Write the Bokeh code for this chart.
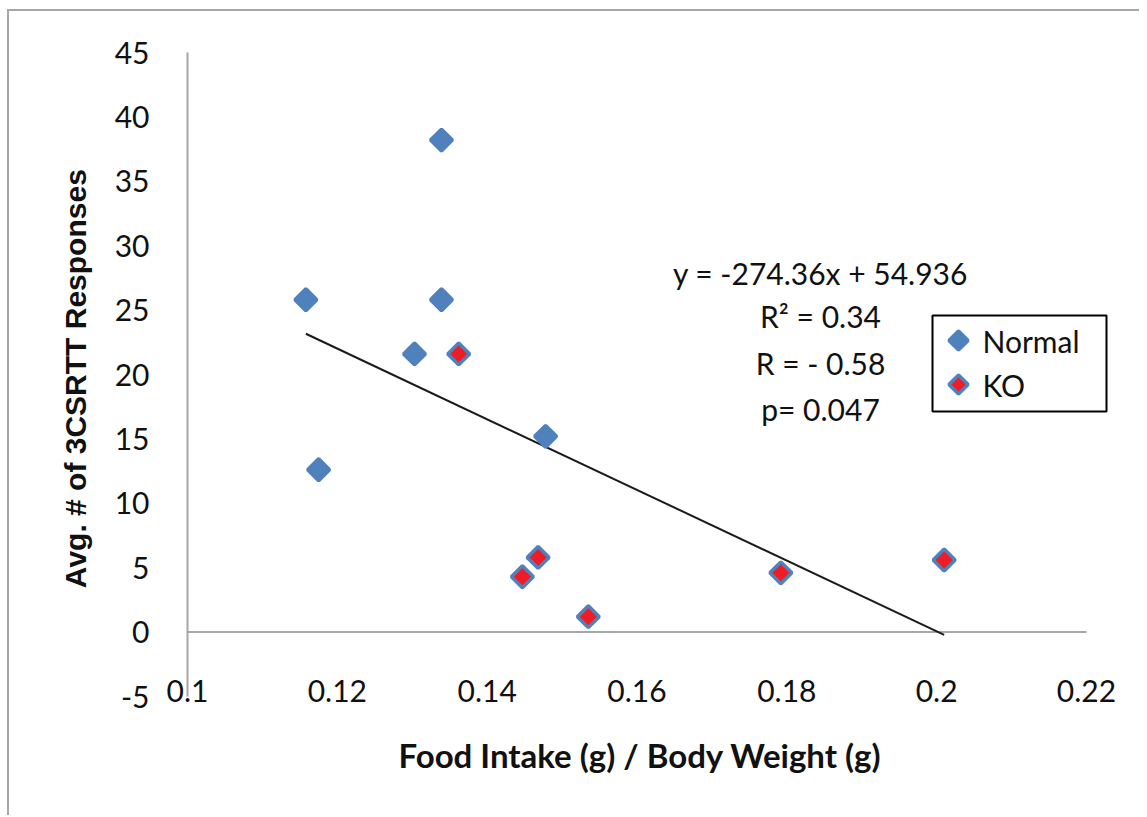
import numpy as np
from bokeh.plotting import figure
from bokeh.models import (Range1d, FixedTicker, Label, BoxAnnotation, Title)
from bokeh.embed import file_html
from bokeh.resources import INLINE

# ---- data ----
normal_x = [0.1158, 0.1175, 0.1303, 0.1339, 0.1339, 0.1478]
normal_y = [25.8, 12.6, 21.6, 38.2, 25.8, 15.2]
ko_x = [0.1362, 0.1468, 0.1447, 0.1535, 0.1792, 0.2010]
ko_y = [21.6, 5.8, 4.3, 1.2, 4.6, 5.6]

series_names = ["Normal", "KO"]
slope = -274.36
intercept = 54.936
r2_text = "R\u00b2 = 0.34"
r_text = "R = - 0.58"
p_text = "p= 0.047"

x_title = "Food Intake (g) / Body Weight (g)"
y_title = "Avg. # of 3CSRTT  Responses"
x_ticks = [0.10, 0.12, 0.14, 0.16, 0.18, 0.20, 0.22]
x_tick_labels = ["0.1", "0.12", "0.14", "0.16", "0.18", "0.2", "0.22"]
y_ticks = [-5, 0, 5, 10, 15, 20, 25, 30, 35, 40, 45]
y_tick_labels = ["-5", "0", "5", "10", "15", "20", "25", "30", "35", "40", "45"]

FONT = "Lato"
BLUE = "#4F81BD"
RED = "#EE1C25"
GRAY = "#A6A6A6"
TXT = "#111111"

# ---- layout (image pixel geometry of the plot area) ----
X0, X1 = 0.10, 0.22          # axis extent
Y0, Y1 = -5, 45
PX_L, PX_R = 187, 1086       # pixel columns of x = 0.10 / 0.22
PY_T, PY_B = 52, 696         # pixel rows of y = 45 / -5
ORG_X, ORG_Y = 9, 11         # canvas origin inside the page (after css border)
CANVAS_W, CANVAS_H = 1130, 804
X_TITLE_LEFT = 398           # pixel column where the x title starts

def px2x(px):
    return X0 + (px - PX_L) * (X1 - X0) / (PX_R - PX_L)

def py2y(py):
    return Y1 - (py - PY_T) * (Y1 - Y0) / (PY_B - PY_T)

frame_w = CANVAS_W - (PX_L - ORG_X)
frame_h = PY_B - PY_T

p = figure(frame_width=frame_w, frame_height=frame_h,
           min_border_left=PX_L - ORG_X, min_border_right=0,
           min_border_top=PY_T - ORG_Y,
           min_border_bottom=CANVAS_H - (PY_B - ORG_Y),
           x_range=Range1d(X0, px2x(ORG_X + CANVAS_W)), y_range=Range1d(Y0, Y1),
           output_backend="svg", toolbar_location=None,
           background_fill_color="white", border_fill_color="white",
           styles={"margin-left": "7px", "margin-top": "9px",
                   "border-left": "2px solid " + GRAY,
                   "border-top": "2px solid " + GRAY})
p.outline_line_color = None
p.grid.visible = False

# x axis
xa = p.xaxis[0]
xa.ticker = FixedTicker(ticks=x_ticks)
xa.major_label_overrides = {t: l for t, l in zip(x_ticks, x_tick_labels)}
xa.axis_line_color = None
xa.major_tick_line_color = None
xa.minor_tick_line_color = None
xa.major_label_text_font = FONT
xa.major_label_text_font_size = "30px"
xa.major_label_text_color = TXT
xa.major_label_standoff = -23

# x-axis title, placed under the axis extent (not under the wider frame)
p.add_layout(Title(text=x_title, align="left", offset=X_TITLE_LEFT - PX_L,
                   text_font=FONT, text_font_style="bold",
                   text_font_size="33px", text_color=TXT, standoff=56),
             "below")

# y axis
ya = p.yaxis[0]
ya.ticker = FixedTicker(ticks=y_ticks)
ya.major_label_overrides = {t: l for t, l in zip(y_ticks, y_tick_labels)}
ya.axis_line_color = GRAY
ya.axis_line_width = 2
ya.major_tick_line_color = None
ya.minor_tick_line_color = None
ya.major_label_text_font = FONT
ya.major_label_text_font_size = "30px"
ya.major_label_text_color = TXT
ya.major_label_standoff = 32
ya.axis_label = y_title
ya.axis_label_text_font = "Liberation Sans"
ya.axis_label_text_font_style = "bold"
ya.axis_label_text_font_size = "30px"
ya.axis_label_text_color = TXT
ya.axis_label_standoff = 20

# horizontal axis line at y = 0 (over the axis extent only)
p.line([x_ticks[0], x_ticks[-1]], [0, 0], line_color=GRAY, line_width=2)

# trend line
all_x = normal_x + ko_x
tx = [min(all_x), max(all_x)]
ty = [slope * v + intercept for v in tx]
p.line(tx, ty, line_color="#1a1a1a", line_width=2)

# points
p.scatter(normal_x, normal_y, marker="square", angle=np.pi / 4, size=15.5,
          fill_color=BLUE, line_color=BLUE, line_width=3.5)
p.scatter(ko_x, ko_y, marker="square", angle=np.pi / 4, size=15.5,
          fill_color=RED, line_color=BLUE, line_width=3.5)

# equation annotations
eq_text = "y = %.2fx + %.3f" % (slope, intercept)
for txt, py in [(eq_text, 272), (r2_text, 315), (r_text, 362), (p_text, 408)]:
    p.add_layout(Label(x=px2x(820), y=py2y(py), text=txt, text_align="center",
                       text_baseline="middle", text_font=FONT,
                       text_font_size="30px", text_color=TXT))

# legend (drawn by hand so the key markers are square diamonds)
p.add_layout(BoxAnnotation(left=px2x(932), right=px2x(1106),
                           top=py2y(315), bottom=py2y(411),
                           fill_color="white", fill_alpha=1,
                           line_color="black", line_alpha=1, line_width=2,
                           level="underlay"))
key_fill = [BLUE, RED]
for name, fill, py in zip(series_names, key_fill, [340, 384]):
    p.scatter([px2x(958)], [py2y(py)], marker="square", angle=np.pi / 4,
              size=13.5, fill_color=fill, line_color=BLUE, line_width=3.5)
    p.add_layout(Label(x=px2x(982), y=py2y(py), text=name, text_align="left",
                       text_baseline="middle", text_font=FONT,
                       text_font_size="30px", text_color=TXT))

open("out.html", "w").write(file_html(p, INLINE))
